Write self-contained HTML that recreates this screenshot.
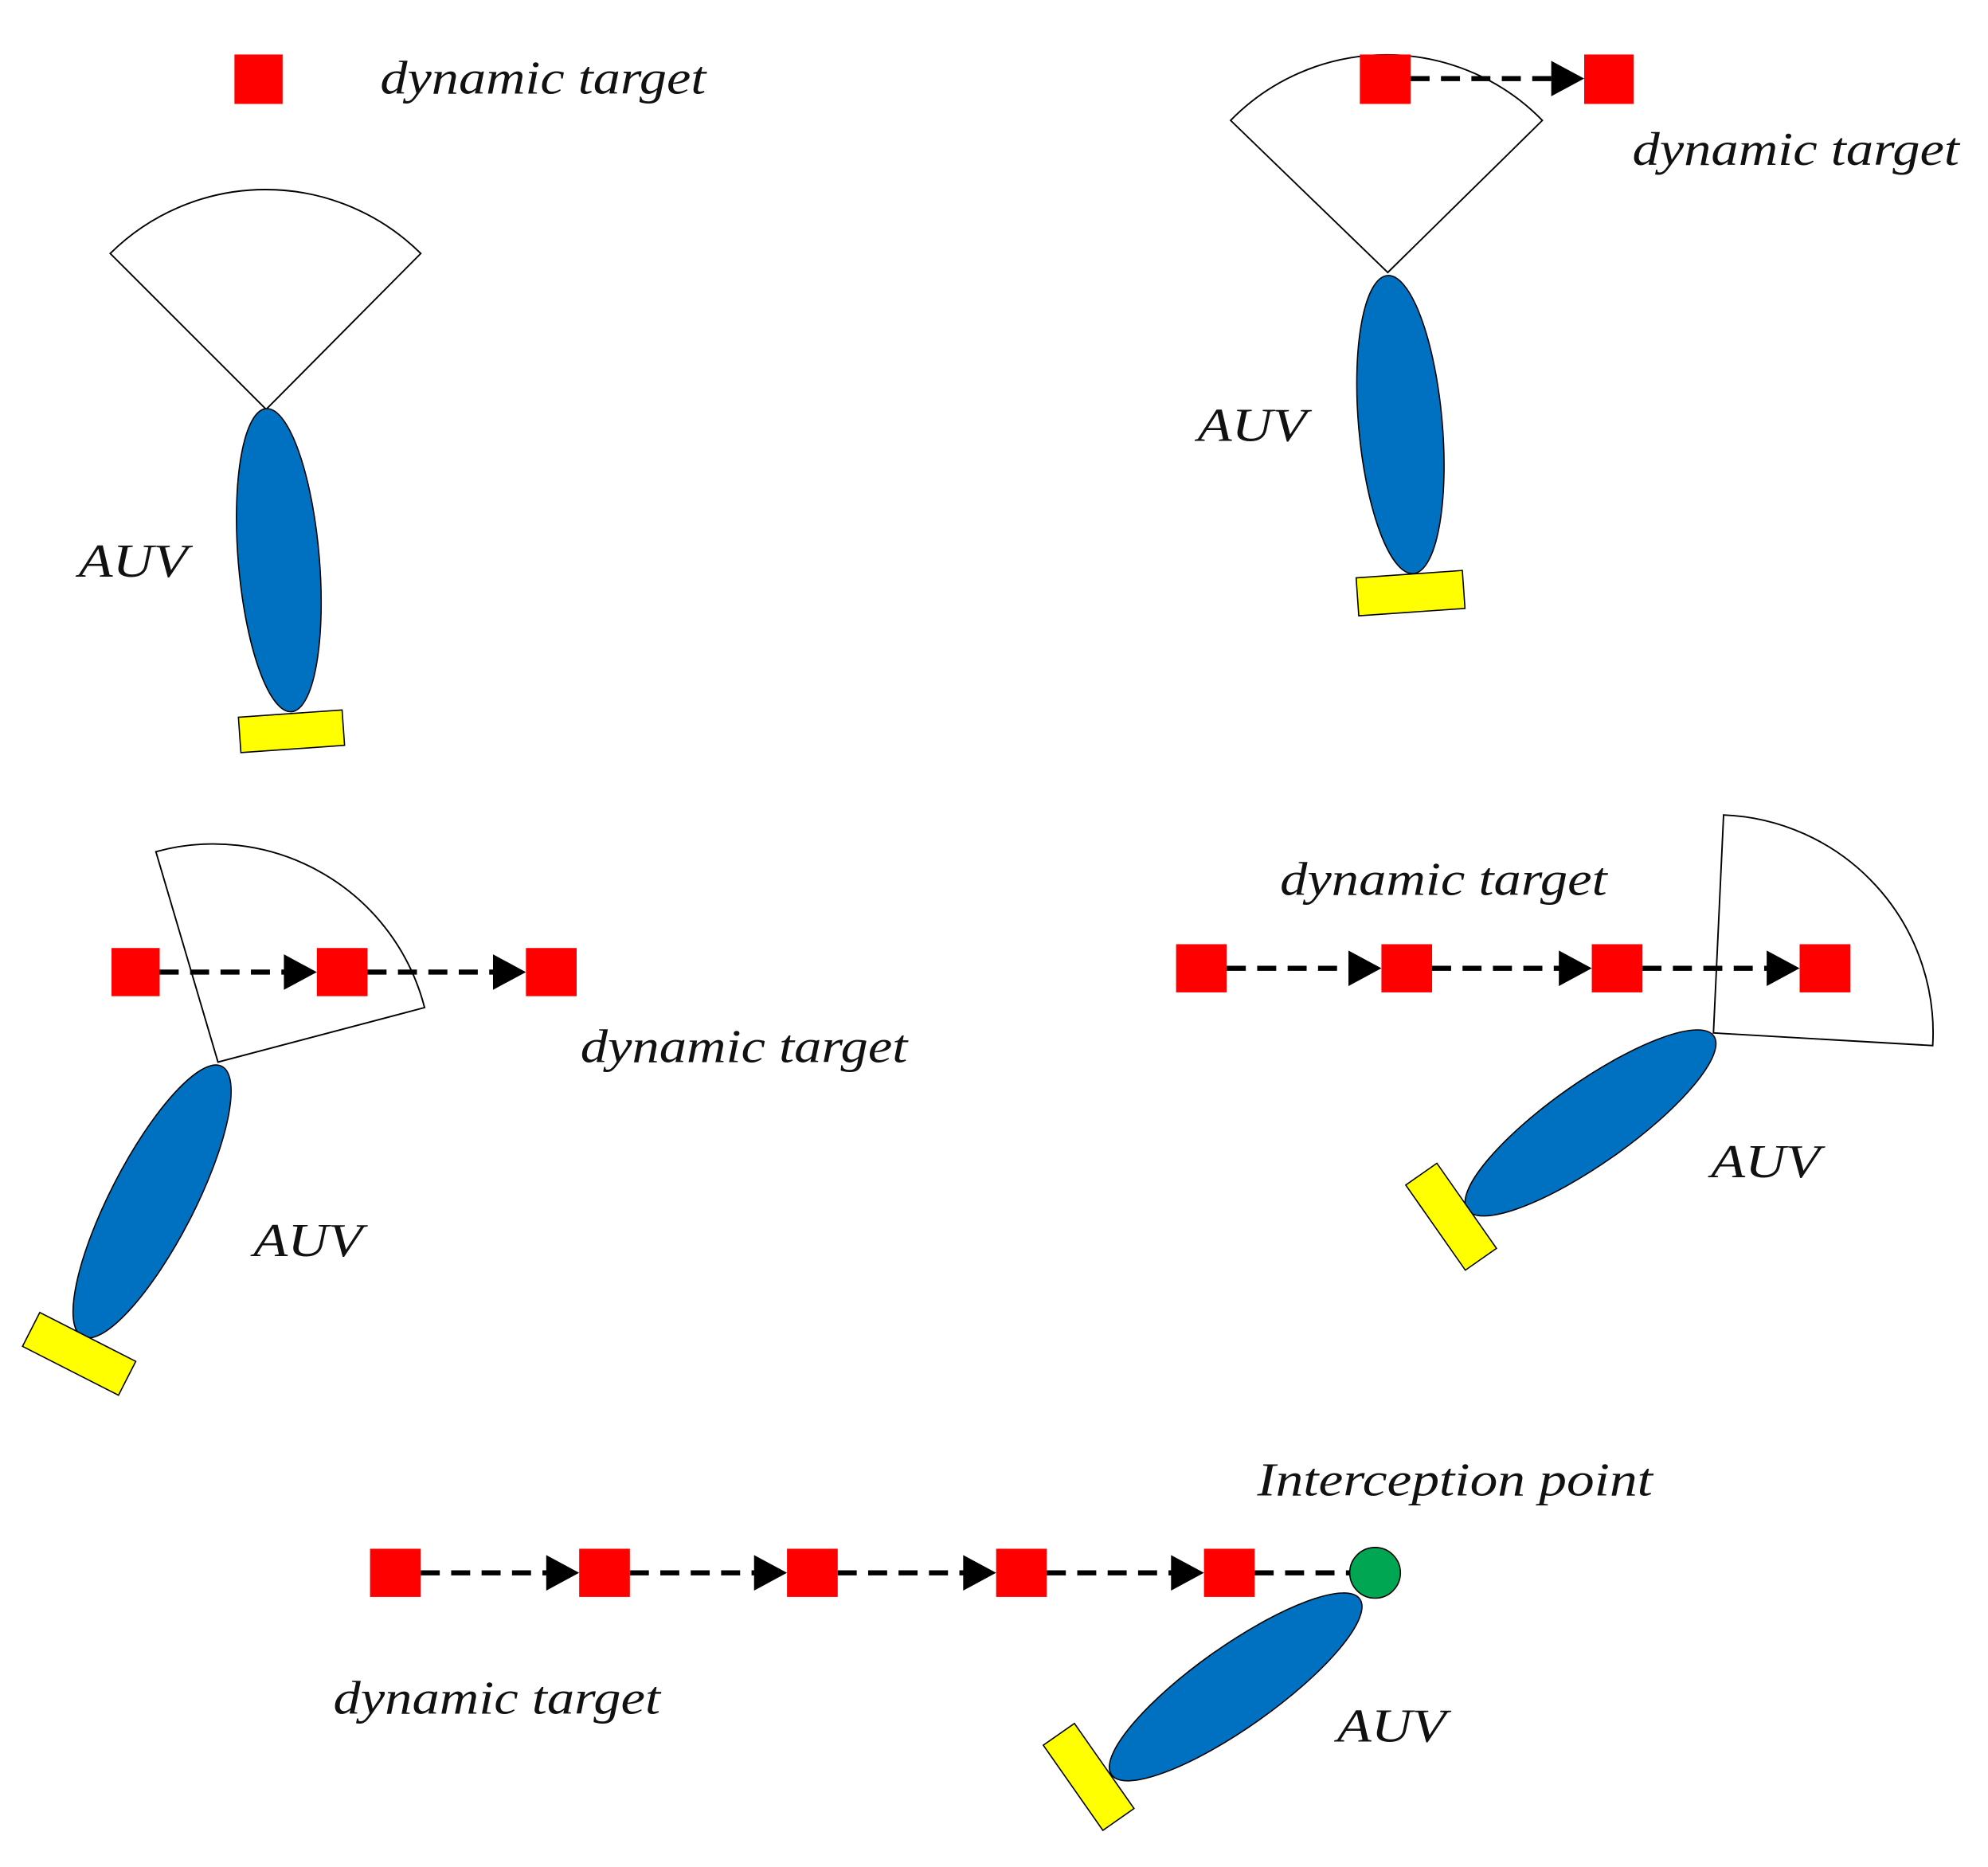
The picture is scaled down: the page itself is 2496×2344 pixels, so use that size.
<!DOCTYPE html>
<html><head><meta charset="utf-8"><style>
html,body{margin:0;padding:0;background:#fff;}
svg{display:block;}
text{font-family:"Liberation Serif",serif;font-style:italic;fill:#111;}
</style></head><body>
<svg width="2496" height="2344" viewBox="0 0 1560 1465" xmlns="http://www.w3.org/2000/svg">
<g transform="scale(0.9945)">
<g stroke="#000" stroke-width="1.2" fill="#fff">
<path d="M210,323 L87,200 A174,174 0 0 1 332,200 Z"/>
<path d="M1095,215 L971,95 A172,172 0 0 1 1217,95 Z"/>
<path d="M172,838 L123,672 A172,172 0 0 1 335,795 Z"/>
<path d="M1352,815 L1360,643 A172,172 0 0 1 1525,825 Z"/>
</g>
<g stroke="#000" stroke-width="4" stroke-dasharray="15 9" fill="none">
<line x1="1113" y1="62" x2="1228" y2="62"/>
<line x1="126" y1="767" x2="228" y2="767"/>
<line x1="290" y1="767" x2="393" y2="767"/>
<line x1="968" y1="764" x2="1068" y2="764"/>
<line x1="1130" y1="764" x2="1234" y2="764"/>
<line x1="1296" y1="764" x2="1398" y2="764"/>
<line x1="332" y1="1241" x2="435" y2="1241"/>
<line x1="497" y1="1241" x2="599" y2="1241"/>
<line x1="661" y1="1241" x2="764" y2="1241"/>
<line x1="826" y1="1241" x2="928" y2="1241"/>
<line x1="990" y1="1241" x2="1068" y2="1241"/>
</g>
<g fill="#000">
<polygon points="1224,48 1250,62 1224,76"/>
<polygon points="224,753 250,767 224,781"/>
<polygon points="389,753 415,767 389,781"/>
<polygon points="1064,750 1090,764 1064,778"/>
<polygon points="1230,750 1256,764 1230,778"/>
<polygon points="1394,750 1420,764 1394,778"/>
<polygon points="431,1227 457,1241 431,1255"/>
<polygon points="595,1227 621,1241 595,1255"/>
<polygon points="760,1227 786,1241 760,1255"/>
<polygon points="924,1227 950,1241 924,1255"/>
</g>
<g fill="#f00">
<rect x="185" y="43" width="38" height="39"/>
<rect x="1073" y="43" width="40" height="39"/>
<rect x="1250" y="43" width="39" height="39"/>
<rect x="88" y="748" width="38" height="38"/>
<rect x="250" y="748" width="40" height="38"/>
<rect x="415" y="748" width="40" height="38"/>
<rect x="928" y="745" width="40" height="38"/>
<rect x="1090" y="745" width="40" height="38"/>
<rect x="1256" y="745" width="40" height="38"/>
<rect x="1420" y="745" width="40" height="38"/>
<rect x="292" y="1222" width="40" height="38"/>
<rect x="457" y="1222" width="40" height="38"/>
<rect x="621" y="1222" width="40" height="38"/>
<rect x="786" y="1222" width="40" height="38"/>
<rect x="950" y="1222" width="40" height="38"/>
</g>
<circle cx="1085" cy="1241" r="20" fill="#00a651" stroke="#000" stroke-width="1"/>
<g fill="#0070c0" stroke="#000" stroke-width="1">
<ellipse cx="220" cy="442" rx="32" ry="120" transform="rotate(-4.8 220 442)"/>
<ellipse cx="1105" cy="335" rx="33" ry="118" transform="rotate(-5 1105 335)"/>
<ellipse cx="120" cy="948" rx="33" ry="120" transform="rotate(27.3 120 948)"/>
<ellipse cx="1255" cy="886" rx="32" ry="119" transform="rotate(54.8 1255 886)"/>
<ellipse cx="975" cy="1331" rx="32" ry="120" transform="rotate(54.7 975 1331)"/>
</g>
<g fill="#ffff00" stroke="#000" stroke-width="1">
<rect x="189" y="563" width="82" height="28" transform="rotate(-4 230 577)"/>
<rect x="1071" y="453" width="84" height="30" transform="rotate(-4 1113 468)"/>
<rect x="20" y="1053" width="85" height="30" transform="rotate(27 62 1068)"/>
<rect x="1104" y="945" width="82" height="30" transform="rotate(55 1145 960)"/>
<rect x="818" y="1387" width="82" height="30" transform="rotate(55 859 1402)"/>
</g>
<g font-size="37">
<text x="300" y="74" textLength="257" lengthAdjust="spacingAndGlyphs">dynamic target</text>
<text x="1288" y="130" textLength="258" lengthAdjust="spacingAndGlyphs">dynamic target</text>
<text x="458" y="838" textLength="258" lengthAdjust="spacingAndGlyphs">dynamic target</text>
<text x="1010" y="706" textLength="258" lengthAdjust="spacingAndGlyphs">dynamic target</text>
<text x="263" y="1352" textLength="258" lengthAdjust="spacingAndGlyphs">dynamic target</text>
<text x="992" y="1180" textLength="312" lengthAdjust="spacingAndGlyphs">Interception point</text>
<text x="62" y="455" textLength="86" lengthAdjust="spacingAndGlyphs">AUV</text>
<text x="945" y="348" textLength="86" lengthAdjust="spacingAndGlyphs">AUV</text>
<text x="200" y="991" textLength="86" lengthAdjust="spacingAndGlyphs">AUV</text>
<text x="1350" y="929" textLength="86" lengthAdjust="spacingAndGlyphs">AUV</text>
<text x="1055" y="1374" textLength="86" lengthAdjust="spacingAndGlyphs">AUV</text>
</g>
</g>
</svg>
</body></html>
